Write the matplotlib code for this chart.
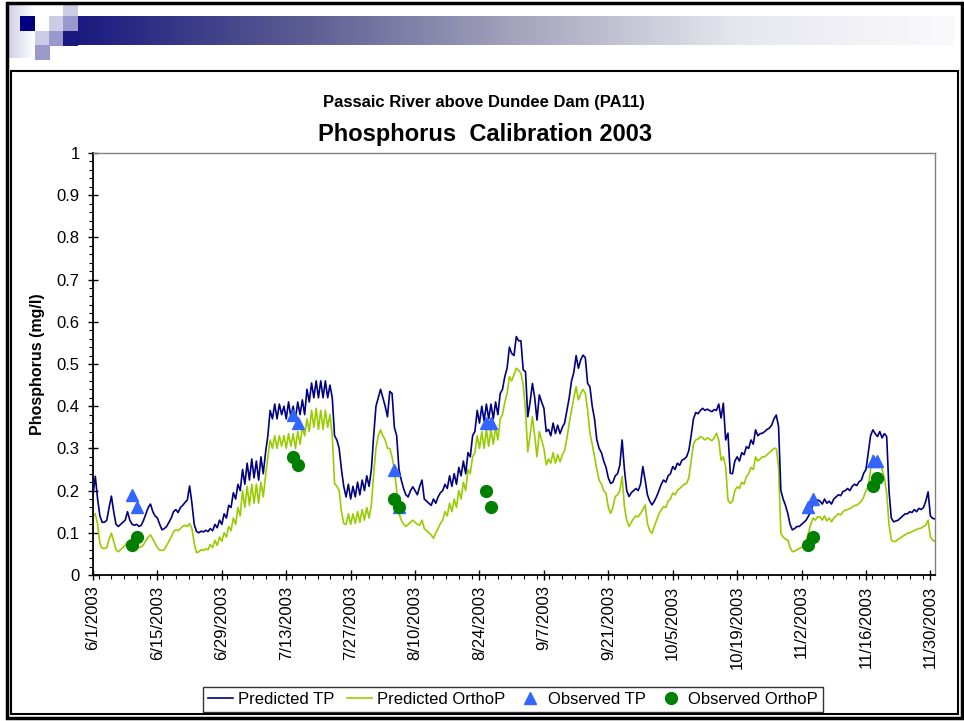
import matplotlib
matplotlib.use('Agg')
import matplotlib.pyplot as plt
import matplotlib.dates as mdates
from matplotlib.patches import Rectangle
from matplotlib.colors import LinearSegmentedColormap
from matplotlib.ticker import MultipleLocator, FixedLocator, FixedFormatter
import numpy as np
import pandas as pd

plt.rcParams['font.family'] = ['Liberation Sans', 'DejaVu Sans']

# model output, every 12 hours from 6/1/2003 00:00
tp_pred = [
    0.19, 0.234, 0.18, 0.14, 0.125, 0.125, 0.13, 0.16, 0.187, 0.15, 0.12, 0.115, 0.12, 0.125,
    0.13, 0.15, 0.13, 0.12, 0.118, 0.12, 0.115, 0.118, 0.13, 0.145, 0.16, 0.168, 0.15, 0.14,
    0.135, 0.12, 0.107, 0.11, 0.115, 0.125, 0.135, 0.15, 0.155, 0.148, 0.16, 0.165, 0.172, 0.178,
    0.211, 0.17, 0.12, 0.103, 0.1, 0.104, 0.102, 0.106, 0.103, 0.11, 0.105, 0.12, 0.112, 0.13,
    0.12, 0.145, 0.135, 0.165, 0.16, 0.195, 0.18, 0.215, 0.2, 0.25, 0.215, 0.265, 0.225, 0.275,
    0.23, 0.27, 0.225, 0.28, 0.24, 0.29, 0.33, 0.39, 0.37, 0.405, 0.37, 0.405, 0.38, 0.4,
    0.37, 0.41, 0.375, 0.4, 0.37, 0.41, 0.38, 0.415, 0.38, 0.44, 0.41, 0.455, 0.42, 0.46,
    0.42, 0.46, 0.42, 0.46, 0.42, 0.45, 0.42, 0.33, 0.32, 0.3, 0.25, 0.21, 0.185, 0.215,
    0.18, 0.21, 0.185, 0.22, 0.19, 0.225, 0.2, 0.235, 0.21, 0.25, 0.33, 0.4, 0.42, 0.44,
    0.42, 0.4, 0.375, 0.435, 0.43, 0.35, 0.33, 0.25, 0.225, 0.205, 0.19, 0.185, 0.2, 0.209,
    0.2, 0.19, 0.21, 0.225, 0.18, 0.175, 0.17, 0.165, 0.18, 0.17, 0.185, 0.195, 0.2, 0.215,
    0.205, 0.235, 0.21, 0.24, 0.215, 0.255, 0.235, 0.27, 0.24, 0.29, 0.28, 0.33, 0.34, 0.39,
    0.36, 0.4, 0.365, 0.405, 0.37, 0.405, 0.37, 0.41, 0.38, 0.43, 0.44, 0.47, 0.49, 0.54,
    0.525, 0.52, 0.565, 0.555, 0.555, 0.486, 0.482, 0.375, 0.41, 0.454, 0.42, 0.367, 0.427, 0.41,
    0.395, 0.34, 0.345, 0.33, 0.36, 0.335, 0.355, 0.335, 0.35, 0.36, 0.39, 0.42, 0.46, 0.48,
    0.52, 0.49, 0.51, 0.521, 0.515, 0.454, 0.446, 0.4, 0.37, 0.32, 0.3, 0.29, 0.27, 0.255,
    0.23, 0.217, 0.22, 0.235, 0.24, 0.26, 0.32, 0.25, 0.2, 0.186, 0.195, 0.2, 0.205, 0.2,
    0.215, 0.257, 0.225, 0.19, 0.175, 0.166, 0.175, 0.186, 0.2, 0.215, 0.225, 0.22, 0.235, 0.24,
    0.257, 0.25, 0.265, 0.26, 0.272, 0.275, 0.28, 0.295, 0.33, 0.37, 0.385, 0.382, 0.39, 0.395,
    0.39, 0.393, 0.39, 0.387, 0.392, 0.39, 0.405, 0.372, 0.407, 0.32, 0.336, 0.241, 0.24, 0.27,
    0.28, 0.27, 0.29, 0.285, 0.304, 0.3, 0.32, 0.31, 0.344, 0.33, 0.335, 0.336, 0.34, 0.345,
    0.348, 0.355, 0.37, 0.379, 0.352, 0.2, 0.18, 0.165, 0.146, 0.12, 0.107, 0.11, 0.115, 0.115,
    0.12, 0.125, 0.13, 0.14, 0.15, 0.17, 0.165, 0.178, 0.175, 0.168, 0.18, 0.17, 0.175, 0.168,
    0.18, 0.185, 0.19, 0.188, 0.198, 0.2, 0.205, 0.2, 0.21, 0.215, 0.212, 0.221, 0.225, 0.241,
    0.25, 0.29, 0.33, 0.344, 0.335, 0.328, 0.34, 0.325, 0.335, 0.328, 0.2, 0.135, 0.126, 0.128,
    0.13, 0.135, 0.14, 0.145, 0.145, 0.15, 0.148, 0.155, 0.15, 0.158, 0.155, 0.16, 0.175, 0.197,
    0.14, 0.134, 0.133,
]

op_pred = [
    0.138, 0.145, 0.12, 0.075, 0.063, 0.063, 0.065, 0.085, 0.099, 0.08, 0.06, 0.055, 0.06, 0.065,
    0.07, 0.079, 0.07, 0.065, 0.063, 0.065, 0.065, 0.067, 0.072, 0.082, 0.09, 0.095, 0.085, 0.075,
    0.065, 0.059, 0.058, 0.06, 0.07, 0.08, 0.09, 0.103, 0.107, 0.105, 0.11, 0.115, 0.118, 0.115,
    0.122, 0.11, 0.075, 0.053, 0.055, 0.06, 0.058, 0.062, 0.06, 0.072, 0.065, 0.082, 0.07, 0.09,
    0.08, 0.1, 0.09, 0.115, 0.105, 0.135, 0.12, 0.16, 0.14, 0.2, 0.16, 0.21, 0.165, 0.215,
    0.17, 0.215, 0.17, 0.22, 0.185, 0.235, 0.28, 0.32, 0.3, 0.33, 0.3, 0.33, 0.305, 0.33,
    0.3, 0.335, 0.305, 0.335, 0.3, 0.34, 0.31, 0.35, 0.33, 0.37, 0.34, 0.39, 0.35, 0.395,
    0.345, 0.39, 0.345, 0.39, 0.35, 0.38, 0.33, 0.217, 0.21, 0.2, 0.15, 0.122, 0.12, 0.145,
    0.12, 0.145, 0.122, 0.15, 0.125, 0.155, 0.13, 0.16, 0.135, 0.165, 0.24, 0.3, 0.33, 0.344,
    0.33, 0.32, 0.3, 0.3, 0.28, 0.25, 0.2, 0.146, 0.13, 0.12, 0.115, 0.12, 0.125, 0.13,
    0.125, 0.12, 0.118, 0.13, 0.11, 0.105, 0.1, 0.095, 0.087, 0.1, 0.11, 0.122, 0.13, 0.15,
    0.14, 0.17, 0.15, 0.18, 0.16, 0.2, 0.18, 0.22, 0.2, 0.25, 0.24, 0.28, 0.29, 0.33,
    0.3, 0.34, 0.3, 0.345, 0.305, 0.345, 0.31, 0.35, 0.32, 0.37, 0.38, 0.41, 0.43, 0.47,
    0.46, 0.475, 0.49, 0.485, 0.478, 0.45, 0.391, 0.292, 0.33, 0.375, 0.33, 0.28, 0.34, 0.32,
    0.3, 0.261, 0.275, 0.265, 0.29, 0.265, 0.285, 0.268, 0.285, 0.295, 0.324, 0.36, 0.39, 0.42,
    0.446, 0.415, 0.43, 0.44, 0.43, 0.391, 0.336, 0.31, 0.28, 0.25, 0.225, 0.215, 0.2, 0.194,
    0.16, 0.146, 0.16, 0.186, 0.19, 0.2, 0.233, 0.162, 0.13, 0.115, 0.125, 0.134, 0.14, 0.138,
    0.146, 0.155, 0.166, 0.122, 0.105, 0.099, 0.115, 0.13, 0.145, 0.154, 0.162, 0.16, 0.175, 0.18,
    0.194, 0.19, 0.2, 0.205, 0.21, 0.215, 0.217, 0.23, 0.27, 0.31, 0.32, 0.322, 0.328, 0.325,
    0.32, 0.325, 0.322, 0.318, 0.325, 0.336, 0.32, 0.272, 0.28, 0.257, 0.178, 0.17, 0.175, 0.2,
    0.209, 0.205, 0.22, 0.215, 0.233, 0.24, 0.255, 0.25, 0.28, 0.27, 0.275, 0.28, 0.28, 0.285,
    0.29, 0.295, 0.3, 0.3, 0.257, 0.099, 0.09, 0.085, 0.083, 0.065, 0.055, 0.057, 0.06, 0.063,
    0.065, 0.072, 0.08, 0.1, 0.12, 0.135, 0.13, 0.138, 0.138, 0.13, 0.14, 0.128, 0.135, 0.126,
    0.135, 0.14, 0.145, 0.142, 0.15, 0.154, 0.155, 0.158, 0.16, 0.165, 0.165, 0.17, 0.175, 0.185,
    0.2, 0.209, 0.25, 0.284, 0.275, 0.268, 0.264, 0.25, 0.23, 0.194, 0.12, 0.083, 0.079, 0.08,
    0.085, 0.088, 0.092, 0.095, 0.099, 0.1, 0.103, 0.105, 0.108, 0.11, 0.111, 0.115, 0.118, 0.13,
    0.09, 0.083, 0.08,
]

obs_dates = ['2003-06-09 12:00', '2003-06-10 12:00', '2003-07-14 12:00', '2003-07-15 12:00',
             '2003-08-05 12:00', '2003-08-06 12:00', '2003-08-25 12:00', '2003-08-26 12:00',
             '2003-11-03 12:00', '2003-11-04 12:00', '2003-11-17 12:00', '2003-11-18 12:00']
obs_tp = [0.19, 0.16, 0.38, 0.36, 0.25, 0.16, 0.36, 0.36, 0.16, 0.18, 0.27, 0.27]
obs_op = [0.07, 0.09, 0.28, 0.26, 0.18, 0.16, 0.20, 0.16, 0.07, 0.09, 0.21, 0.23]

tick_dates = ['2003-06-01', '2003-06-15', '2003-06-29', '2003-07-13', '2003-07-27',
              '2003-08-10', '2003-08-24', '2003-09-07', '2003-09-21', '2003-10-05',
              '2003-10-19', '2003-11-02', '2003-11-16', '2003-11-30']
tick_labels = ['6/1/2003', '6/15/2003', '6/29/2003', '7/13/2003', '7/27/2003',
               '8/10/2003', '8/24/2003', '9/7/2003', '9/21/2003', '10/5/2003',
               '10/19/2003', '11/2/2003', '11/16/2003', '11/30/2003']
y_labels = ['0', '0.1', '0.2', '0.3', '0.4', '0.5', '0.6', '0.7', '0.8', '0.9', '1']

tp_times = pd.date_range('2003-06-01', periods=len(tp_pred), freq='12h')
op_times = pd.date_range('2003-06-01', periods=len(op_pred), freq='12h')
obs_t = pd.to_datetime(obs_dates)

W, H = 964, 721
fig = plt.figure(figsize=(W / 100, H / 100), dpi=100)

# slide background decoration, pixel coordinates
bg = fig.add_axes([0, 0, 1, 1])
bg.set_xlim(0, W)
bg.set_ylim(H, 0)
bg.axis('off')

bar_cmap = LinearSegmentedColormap.from_list('bar', ['#1a1a80', '#5a5a92', '#a4a4bc', '#e6e6ee', '#fafafd'])
bg.imshow(np.linspace(0, 1, 256).reshape(1, -1), cmap=bar_cmap, aspect='auto',
          extent=(78, 955, 45, 16), zorder=1)
side_cmap = LinearSegmentedColormap.from_list('side', ['#d0d0e8', '#ffffff'])
bg.imshow(np.linspace(0, 1, 64).reshape(1, -1), cmap=side_cmap, aspect='auto',
          extent=(8, 35, 58, 5), zorder=1)

squares = [
    (20, 16, '#000080'), (63, 5, '#cccce6'), (49, 16, '#ccccE6'), (63, 16, '#9999cc'),
    (35, 31, '#ccccE6'), (49, 31, '#9999cc'), (35, 45, '#9999cc'), (63, 31, '#1a1a80'),
]
for sx, sy, c in squares:
    bg.add_patch(Rectangle((sx, sy), 15, 14.5, facecolor=c, edgecolor='none', zorder=2))

bg.add_patch(Rectangle((7, 3), 955, 715, fill=False, edgecolor='black', lw=2.5, zorder=3))
bg.add_patch(Rectangle((11, 71), 947, 643, fill=False, edgecolor='black', lw=1.5, zorder=3))

# chart
ax = fig.add_axes([93 / W, 1 - 575 / H, 842 / W, 422 / H])
ax.plot(tp_times, tp_pred, color='#000080', lw=1.2, label='Predicted TP', zorder=3)
ax.plot(op_times, op_pred, color='#99cc00', lw=1.2, label='Predicted OrthoP', zorder=2)
ax.plot(obs_t, obs_tp, linestyle='none', marker='^', color='#3366ff', markersize=9,
        label='Observed TP', zorder=4)
ax.plot(obs_t, obs_op, linestyle='none', marker='o', color='#008000', markersize=8.5,
        label='Observed OrthoP', zorder=5)

ax.set_xlim(pd.Timestamp('2003-06-01'), pd.Timestamp('2003-12-01'))
ax.set_ylim(0, 1)

ax.xaxis.set_major_locator(FixedLocator(mdates.date2num(pd.to_datetime(tick_dates))))
ax.xaxis.set_major_formatter(FixedFormatter(tick_labels))
ax.xaxis.set_minor_locator(MultipleLocator(2.8))
ax.yaxis.set_major_locator(FixedLocator(np.arange(len(y_labels)) / 10))
ax.yaxis.set_major_formatter(FixedFormatter(y_labels))
ax.yaxis.set_minor_locator(MultipleLocator(0.02))

ax.tick_params(axis='x', which='major', direction='inout', length=7, width=1, labelsize=12,
               labelrotation=90, pad=4)
ax.tick_params(axis='x', which='minor', direction='out', length=3, width=0.8)
ax.tick_params(axis='y', which='major', direction='inout', length=7, width=1, labelsize=12, pad=6)
ax.tick_params(axis='y', which='minor', direction='out', length=3, width=0.8)
for lab in ax.get_xticklabels():
    lab.set_va('top')

for side in ['top', 'right']:
    ax.spines[side].set_color('#808080')
    ax.spines[side].set_linewidth(1)
for side in ['left', 'bottom']:
    ax.spines[side].set_linewidth(1.3)

fig.text(484 / W, 1 - 107 / H, 'Passaic River above Dundee Dam (PA11)', ha='center',
         va='baseline', fontsize=12, fontweight='bold')
fig.text(485 / W, 1 - 141.5 / H, 'Phosphorus  Calibration 2003', ha='center',
         va='baseline', fontsize=17, fontweight='bold')
fig.text(38 / W, 1 - 364 / H, 'Phosphorus (mg/l)', rotation=90, ha='center', va='center',
         fontsize=11.5, fontweight='bold')

leg = fig.legend(loc='center', bbox_to_anchor=(513 / W, 1 - 699 / H), ncol=4, fontsize=12,
                 frameon=True, fancybox=False, edgecolor='black', handlelength=1.5,
                 handletextpad=0.3, columnspacing=0.75, borderpad=0.3, borderaxespad=0)
leg.get_frame().set_linewidth(1)

fig.savefig('out.png', dpi=100)
